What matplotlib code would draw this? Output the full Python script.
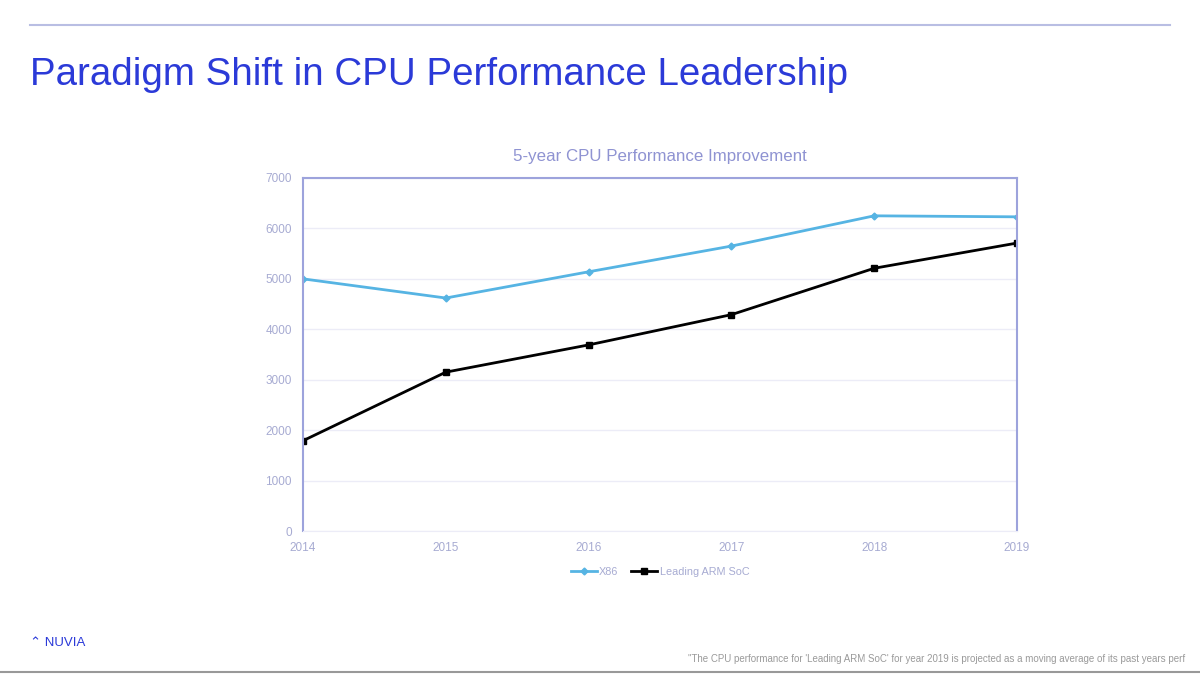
import matplotlib
matplotlib.use('Agg')
import matplotlib.pyplot as plt
from matplotlib.lines import Line2D

years = [2014, 2015, 2016, 2017, 2018, 2019]
x86 = [5000, 4620, 5140, 5650, 6250, 6230]
arm = [1790, 3150, 3690, 4290, 5210, 5710]
yticks = [0, 1000, 2000, 3000, 4000, 5000, 6000, 7000]

plt.rcParams['font.family'] = ['Liberation Sans', 'DejaVu Sans']

blue = '#2b3ad8'
lav = '#9da3dc'
tick_col = '#a7abd2'
x86_col = '#56b4e3'

fig = plt.figure(figsize=(12, 6.75), dpi=100)
fig.patch.set_facecolor('white')

# top rule and bottom rule
fig.add_artist(Line2D([30/1200, 1170/1200], [1 - 25/675, 1 - 25/675], color='#b9bee3', lw=1.5))
fig.add_artist(Line2D([0, 1], [1 - 672/675, 1 - 672/675], color='#999999', lw=1.5))

fig.text(30/1200, 1 - 75/675, 'Paradigm Shift in CPU Performance Leadership',
         fontsize=27.7, color=blue, va='center', ha='left')

ax = fig.add_axes([303/1200, 1 - 531/675, (1017 - 303)/1200, (531 - 178)/675])
ax.plot(years, x86, color=x86_col, lw=2, marker='D', ms=3.5, label='X86')
ax.plot(years, arm, color='black', lw=2, marker='s', ms=5, label='Leading ARM SoC')

ax.set_xlim(2014, 2019)
ax.set_ylim(0, 7000)
ax.set_yticks(yticks)
ax.set_xticks(years)
ax.grid(axis='y', color='#ececf7', lw=1)
ax.set_axisbelow(True)
for s in ['left', 'right', 'top']:
    ax.spines[s].set_color(lav)
    ax.spines[s].set_linewidth(1.5)
ax.spines['bottom'].set_color('#ececf7')
ax.tick_params(length=0, colors=tick_col, labelsize=8.5, pad=8)
ax.set_title('5-year CPU Performance Improvement', color='#8f93d2', fontsize=12.2, pad=12)

ax.legend(loc='upper center', bbox_to_anchor=(0.5, -0.075), ncol=2, frameon=False,
          fontsize=7.8, labelcolor=tick_col, handlelength=2.4, handletextpad=0.2,
          columnspacing=1.2)

fig.text(30/1200, 1 - 643/675, '\u2303 NUVIA', fontsize=9.5, color=blue, va='center', ha='left')
fig.text(1185/1200, 1 - 659/675,
         "\"The CPU performance for 'Leading ARM SoC' for year 2019 is projected as a moving average of its past years perf",
         fontsize=7, color='#9a9a9a', va='center', ha='right')

fig.savefig('out.png', dpi=100, facecolor='white')
